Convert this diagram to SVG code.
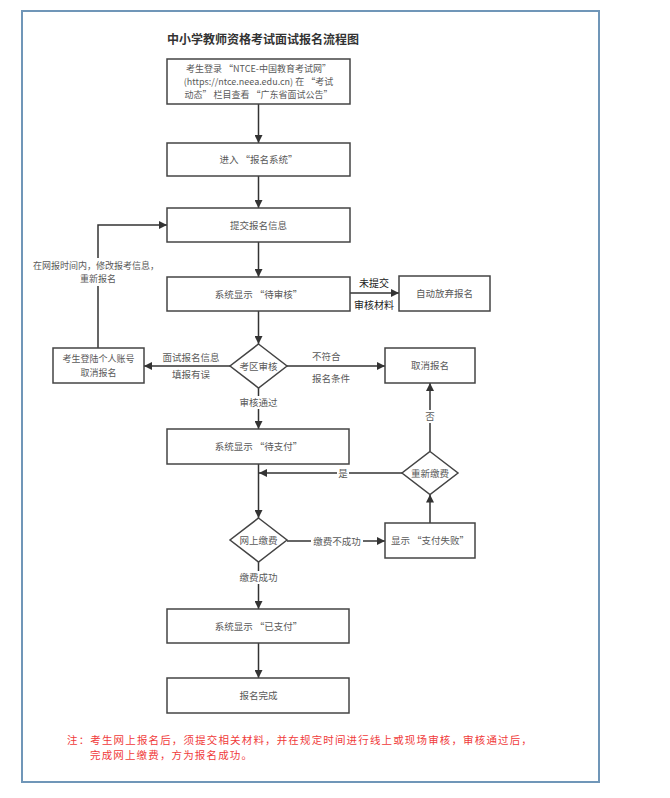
<svg xmlns="http://www.w3.org/2000/svg" width="670" height="798" viewBox="0 0 670 798">
<defs>
<marker id="arr" viewBox="0 0 10 10" refX="10" refY="5" markerWidth="9" markerHeight="8" markerUnits="userSpaceOnUse" orient="auto">
<path d="M0,0 L10,5 L0,10 z" fill="#333"/>
</marker>
<style>
.box{fill:#fff;stroke:#444;stroke-width:1.5}
.t{font-family:"Noto Sans CJK SC","Microsoft YaHei",sans-serif;font-size:9.5px;fill:#595959;text-anchor:middle}
.lb{font-family:"Noto Sans CJK SC",sans-serif;font-size:9.5px;fill:#595959;text-anchor:middle}
.sm{font-size:9px}
.st{text-anchor:start}
.dk{fill:#222;font-size:10px}
.ln{fill:none;stroke:#333;stroke-width:1.5}
.ar{marker-end:url(#arr)}
.bg{fill:#fff}
.note{font-family:"Noto Sans CJK SC",sans-serif;font-size:10.5px;fill:#f03a3a;letter-spacing:1.15px}
</style>
</defs>
<rect x="0" y="0" width="670" height="798" fill="#fff"/>
<rect x="22" y="11" width="577" height="771" fill="none" stroke="#7096b8" stroke-width="2"/>
<text x="263" y="44" font-family="Noto Sans CJK SC,sans-serif" font-size="12" font-weight="bold" fill="#333" text-anchor="middle">中小学教师资格考试面试报名流程图</text>

<g id="connectors">
<line class="ln ar" x1="258.5" y1="104" x2="258.5" y2="143"/>
<line class="ln ar" x1="258.5" y1="176" x2="258.5" y2="208"/>
<line class="ln ar" x1="258.5" y1="242" x2="258.5" y2="277"/>
<line class="ln ar" x1="350" y1="293" x2="399" y2="293"/>
<line class="ln ar" x1="258.5" y1="311" x2="258.5" y2="344"/>
<line class="ln ar" x1="230" y1="366" x2="144" y2="366"/>
<polyline class="ln ar" points="98,348 98,225 167,225"/>
<line class="ln ar" x1="287" y1="366" x2="385" y2="366"/>
<line class="ln ar" x1="258.5" y1="388" x2="258.5" y2="429"/>
<line class="ln ar" x1="258.5" y1="464" x2="258.5" y2="518"/>
<line class="ln ar" x1="402" y1="473" x2="259" y2="473"/>
<line class="ln ar" x1="287" y1="541" x2="385" y2="541"/>
<line class="ln ar" x1="430" y1="523" x2="430" y2="494.5"/>
<line class="ln ar" x1="430" y1="451.5" x2="430" y2="383"/>
<line class="ln ar" x1="258.5" y1="562" x2="258.5" y2="609"/>
<line class="ln ar" x1="258.5" y1="643" x2="258.5" y2="678"/>
<text class="lb dk" x="374" y="287">未提交</text>
<text class="lb dk" x="374" y="309">审核材料</text>
<rect class="bg" x="32" y="258" width="130" height="28"/>
<text class="lb sm" x="96" y="269">在网报时间内，修改报考信息，<tspan x="98" dy="13.1">重新报名</tspan></text>
<text class="lb" x="191" y="361">面试报名信息</text>
<text class="lb" x="191" y="378">填报有误</text>
<text class="lb st" x="312" y="360">不符合</text>
<text class="lb st" x="312" y="382">报名条件</text>
<rect class="bg" x="237" y="396" width="43" height="13"/>
<text class="lb" x="258.5" y="406">审核通过</text>
<rect class="bg" x="337" y="467" width="12" height="12"/>
<text class="lb" x="343" y="477">是</text>
<rect class="bg" x="424" y="410" width="12" height="13"/>
<text class="lb" x="430" y="420">否</text>
<rect class="bg" x="311" y="535" width="52" height="12"/>
<text class="lb" x="337" y="544.5">缴费不成功</text>
<rect class="bg" x="237" y="571" width="43" height="13"/>
<text class="lb" x="258.5" y="581">缴费成功</text>
</g>

<g id="n1"><rect class="box" x="167" y="59" width="183" height="45"/>
<text class="t sm" x="258.5" y="71.8">考生登录 “NTCE-中国教育考试网”<tspan x="258.5" dy="13.1">(https://ntce.neea.edu.cn) 在 “考试</tspan><tspan x="258.5" dy="13.1">动态” 栏目查看 “广东省面试公告”</tspan></text></g>
<g id="n2"><rect class="box" x="167" y="143" width="183" height="33"/><text class="t" x="258.5" y="163">进入 “报名系统”</text></g>
<g id="n3"><rect class="box" x="167" y="208" width="183" height="34"/><text class="t" x="258.5" y="228.5">提交报名信息</text></g>
<g id="n4"><rect class="box" x="167" y="277" width="183" height="34"/><text class="t" x="258.5" y="297.5">系统显示 “待审核”</text></g>
<g id="n5"><rect class="box" x="399" y="276" width="91" height="35"/><text class="t" x="444.5" y="297">自动放弃报名</text></g>
<g id="d1"><polygon class="box" points="258.5,344 287,366 258.5,388 230,366"/><text class="t" x="258.5" y="369.5">考区审核</text></g>
<g id="n6"><rect class="box" x="53" y="348" width="91" height="35"/>
<text class="t sm" x="98.5" y="362.4">考生登陆个人账号<tspan x="98.5" dy="13.1">取消报名</tspan></text></g>
<g id="n7"><rect class="box" x="385" y="348" width="90" height="35"/><text class="t" x="430" y="369">取消报名</text></g>
<g id="n8"><rect class="box" x="167" y="429" width="182" height="35"/><text class="t" x="258.5" y="450">系统显示 “待支付”</text></g>
<g id="d2"><polygon class="box" points="430,451.5 458,473 430,494.5 402,473"/><text class="t" x="430" y="476.5">重新缴费</text></g>
<g id="d3"><polygon class="box" points="258.5,518 287,540 258.5,562 230,540"/><text class="t" x="258.5" y="543.5">网上缴费</text></g>
<g id="n9"><rect class="box" x="385" y="523" width="90" height="35"/><text class="t" x="430" y="544">显示 “支付失败”</text></g>
<g id="n10"><rect class="box" x="167" y="609" width="182" height="34"/><text class="t" x="258.5" y="629.5">系统显示 “已支付”</text></g>
<g id="n11"><rect class="box" x="167" y="678" width="182" height="35"/><text class="t" x="258.5" y="699">报名完成</text></g>

<text class="note" x="67" y="744">注：考生网上报名后，须提交相关材料，并在规定时间进行线上或现场审核，审核通过后，<tspan x="90" dy="15.3">完成网上缴费，方为报名成功。</tspan></text>
</svg>
